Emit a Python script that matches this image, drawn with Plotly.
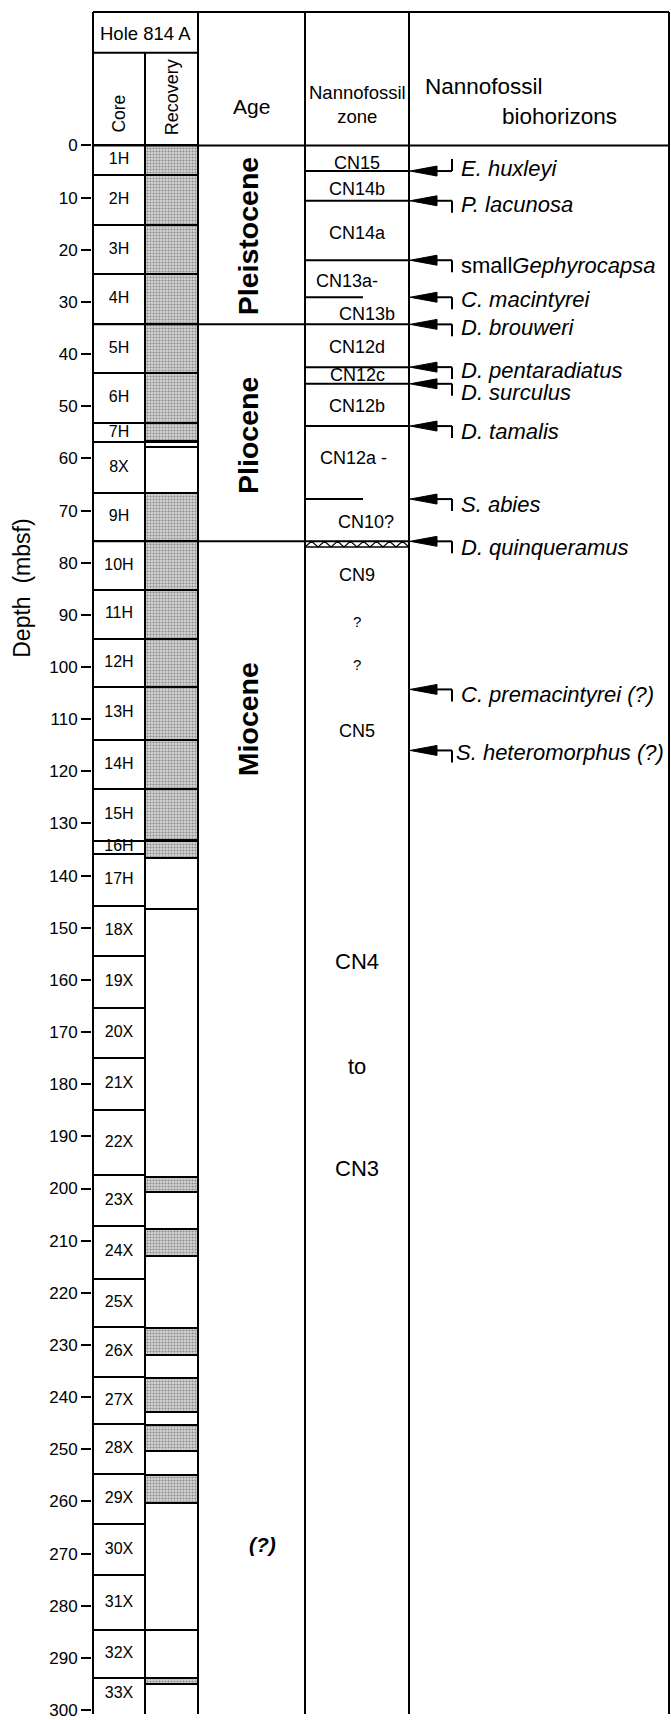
import numpy as np
import plotly.graph_objects as go

# ---------------- data (depths in mbsf) ----------------
core_names = ["1H", "2H", "3H", "4H", "5H", "6H", "7H", "8X", "9H", "10H", "11H",
              "12H", "13H", "14H", "15H", "16H", "17H", "18X", "19X", "20X", "21X",
              "22X", "23X", "24X", "25X", "26X", "27X", "28X", "29X", "30X", "31X",
              "32X", "33X"]
core_top = [0.0, 5.7, 15.2, 24.7, 34.2, 43.7, 53.2, 56.9, 66.7, 75.9, 85.2, 94.6,
            103.8, 114.0, 123.4, 133.3, 135.9, 145.9, 155.4, 165.3, 175.0, 185.0,
            197.5, 207.1, 217.3, 226.6, 236.1, 245.2, 254.8, 264.3, 274.2, 284.7, 293.8]
core_bottom = core_top[1:] + [303.3]

rec_top = [0.0, 5.7, 15.2, 24.7, 34.2, 43.7, 53.2, 66.7, 75.9, 85.2, 94.6, 103.8,
           114.0, 123.4, 133.3, 197.7, 207.7, 226.8, 236.3, 245.4, 254.9, 293.8]
rec_bottom = [5.7, 15.2, 24.7, 34.2, 43.7, 53.2, 56.6, 75.9, 85.2, 94.6, 103.8, 114.0,
              123.4, 133.1, 136.6, 200.7, 212.9, 232.0, 242.9, 250.3, 260.3, 295.0]
rec_open_top = [56.9, 136.6, 284.7]
rec_open_bottom = [57.9, 146.4, 293.8]

epoch_names = ["Pleistocene", "Pliocene", "Miocene"]
epoch_label_depth = [17.4, 55.7, 110.0]
epoch_bounds = [34.3, 75.9]
age_query_depth = 268.3

zone_labels = ["CN15", "CN14b", "CN14a", "CN13a-", "CN13b", "CN12d", "CN12c", "CN12b",
               "CN12a -", "CN10?", "CN9", "?", "?", "CN5", "CN4", "to", "CN3"]
zone_label_depth = [3.3, 8.4, 16.7, 25.9, 32.3, 38.7, 44.1, 49.9, 59.9, 72.1, 82.3,
                    91.2, 99.5, 112.2, 156.5, 176.6, 196.2]
zone_bounds_full = [4.9, 10.6, 22.0, 42.5, 45.7, 53.8]
zone_bounds_partial = [29.1, 67.8]
hiatus_band = [75.9, 77.0]

bio_names = ["<i>E. huxleyi</i>", "<i>P. lacunosa</i>", "small<i>Gephyrocapsa</i>",
             "<i>C. macintyrei</i>", "<i>D. brouweri</i>", "<i>D. pentaradiatus</i>",
             "<i>D. surculus</i>", "<i>D. tamalis</i>", "<i>S. abies</i>",
             "<i>D. quinqueramus</i>", "<i>C. premacintyrei (?)</i>",
             "<i>S. heteromorphus (?)</i>"]
bio_depth = [4.9, 10.6, 22.0, 29.1, 34.3, 42.5, 45.7, 53.8, 67.8, 75.9, 104.3, 116.0]
bio_tick_up = [True] + [False] * 11

depth_ticks = list(range(0, 301, 10))

# ---------------- layout geometry (pixels) ----------------
W, H = 671, 1720
PX0, PX300 = 146, 1716            # pixel rows of 0 and 300 mbsf
K = (PX300 - PX0) / 300.0          # px per metre
def d(p):
    return (p - PX0) / K
Y_TOP, Y_HOLE = 12, 53
YBOT = d(H)
XL, XCORE, XREC, XAGE, XZONE, XR = 93, 145, 198, 305, 409, 669
ML = 92
FONT = "Liberation Sans, Arial, Helvetica, sans-serif"

zone_x_style = {3: 347, 4: 367, 8: 353, 9: 366}
zone_size_style = {11: 15, 12: 15, 14: 22, 15: 22, 16: 22}
bio_dy_style = [-3, 4, 5, 2, 3, 3, 9, 5, 5, 6, 5, 2]
bio_x_style = {11: 454}

fig = go.Figure()

# core boxes
fig.add_trace(go.Bar(
    x=[(XL + XCORE) / 2] * len(core_names),
    y=[b - t for t, b in zip(core_top, core_bottom)], base=core_top,
    width=XCORE - XL, marker=dict(color="white", line=dict(color="black", width=2)),
    hoverinfo="skip", showlegend=False))
# recovered intervals (stippled)
fig.add_trace(go.Bar(
    x=[(XCORE + XREC) / 2] * len(rec_top),
    y=[b - t for t, b in zip(rec_top, rec_bottom)], base=rec_top,
    width=XREC - XCORE,
    marker=dict(color="#c8c8c8",
                pattern=dict(shape=".", fgcolor="#444444", bgcolor="#d4d4d4",
                             size=3, solidity=0.4),
                line=dict(color="black", width=2)),
    hoverinfo="skip", showlegend=False))
fig.add_trace(go.Bar(
    x=[(XCORE + XREC) / 2] * len(rec_open_top),
    y=[b - t for t, b in zip(rec_open_top, rec_open_bottom)], base=rec_open_top,
    width=XREC - XCORE, marker=dict(color="white", line=dict(color="black", width=2)),
    hoverinfo="skip", showlegend=False))

# core labels
fig.add_trace(go.Scatter(
    x=[(XL + XCORE) / 2] * len(core_names),
    y=[(t + min(b, 300)) / 2 for t, b in zip(core_top, core_bottom)],
    mode="text", text=core_names, textposition="middle center",
    textfont=dict(family=FONT, size=16, color="black"),
    hoverinfo="skip", showlegend=False))

# hiatus zig-zag
zz_x = np.linspace(XAGE, XZONE, 17)
zz_y = [hiatus_band[1] if i % 2 == 0 else hiatus_band[0] for i in range(len(zz_x))]
fig.add_trace(go.Scatter(x=zz_x, y=zz_y, mode="lines",
                         line=dict(color="black", width=1.2),
                         hoverinfo="skip", showlegend=False))

shapes = []
def line(x0, y0, x1, y1, w=2):
    shapes.append(dict(type="line", xref="x", yref="y", x0=x0, y0=y0, x1=x1, y1=y1,
                       line=dict(color="black", width=w)))

line(XL, d(Y_TOP), XR, d(Y_TOP))
line(XL, d(Y_HOLE), XREC, d(Y_HOLE))
line(XL, 0, XR, 0)
for xv in [XL, XREC, XAGE, XZONE, XR]:
    line(xv, d(Y_TOP), xv, YBOT)
line(XCORE, d(Y_HOLE), XCORE, YBOT)
for z in zone_bounds_full:
    line(XAGE, z, XZONE, z)
for z in zone_bounds_partial:
    line(XAGE, z, (XAGE + XZONE) / 2 + 6, z)
for z in epoch_bounds:
    line(XL, z, XZONE, z)
line(XAGE, hiatus_band[1], XZONE, hiatus_band[1], 1.5)

# biohorizon arrows
hh = 5 / K
tk = 12 / K
for dep, up in zip(bio_depth, bio_tick_up):
    shapes.append(dict(type="path", xref="x", yref="y",
                       path=f"M {XZONE + 1},{dep} L {XZONE + 28},{dep - hh} L {XZONE + 28},{dep + hh} Z",
                       fillcolor="black", line=dict(color="black", width=1)))
    line(XZONE + 26, dep, XZONE + 43, dep)
    line(XZONE + 43, dep, XZONE + 43, dep - tk if up else dep + tk)

ann = []
def text(x, y, s, size, anchor="center", angle=0, yshift=0, xref="x"):
    ann.append(dict(x=x, y=y, xref=xref, yref="y", text=s, showarrow=False,
                    xanchor=anchor, yanchor="middle", textangle=angle, yshift=yshift,
                    font=dict(family=FONT, size=size, color="black")))

# headers
text((XL + XREC) / 2, d(34), "Hole 814 A", 18.5)
text((XL + XCORE) / 2, d(114), "Core", 17.5, angle=-90)
text((XCORE + XREC) / 2, d(98), "Recovery", 18, angle=-90)
text((XREC + XAGE) / 2, d(107), "Age", 21)
text((XAGE + XZONE) / 2, d(105), "Nannofossil<br>zone", 18.5)
text(423, d(87), "Nannofossil", 22.5, anchor="left")
text(500, d(117), "biohorizons", 22.5, anchor="left")

# epochs
for name, dep in zip(epoch_names, epoch_label_depth):
    text(248, dep, f"<b>{name}</b>", 28.5, angle=-90)
text(262, age_query_depth, "<b><i>(?)</i></b>", 21)

# zones
for i, (lab, dep) in enumerate(zip(zone_labels, zone_label_depth)):
    text(zone_x_style.get(i, (XAGE + XZONE) / 2), dep, lab, zone_size_style.get(i, 18))

# biohorizon labels
for i, (lab, dep) in enumerate(zip(bio_names, bio_depth)):
    text(bio_x_style.get(i, 459), dep, lab, 22, anchor="left", yshift=-bio_dy_style[i])

# axis title (paper x, outside the x range)
text((22 - ML) / (W - ML), 85, "Depth  (mbsf)", 23, angle=-90, xref="paper")

fig.update_layout(
    width=W, height=H, margin=dict(l=ML, r=0, t=0, b=0),
    paper_bgcolor="white", plot_bgcolor="white",
    barmode="overlay", bargap=0, showlegend=False,
    shapes=shapes, annotations=ann,
    xaxis=dict(range=[ML, W], visible=False, fixedrange=True),
    yaxis=dict(range=[YBOT, d(0)], tickvals=depth_ticks, ticks="outside", ticklen=10,
               tickwidth=2, tickcolor="black", showline=False, showgrid=False,
               zeroline=False, tickfont=dict(family=FONT, size=17, color="black"),
               ticklabeloverflow="allow", fixedrange=True),
)
fig.write_html("out.html")
